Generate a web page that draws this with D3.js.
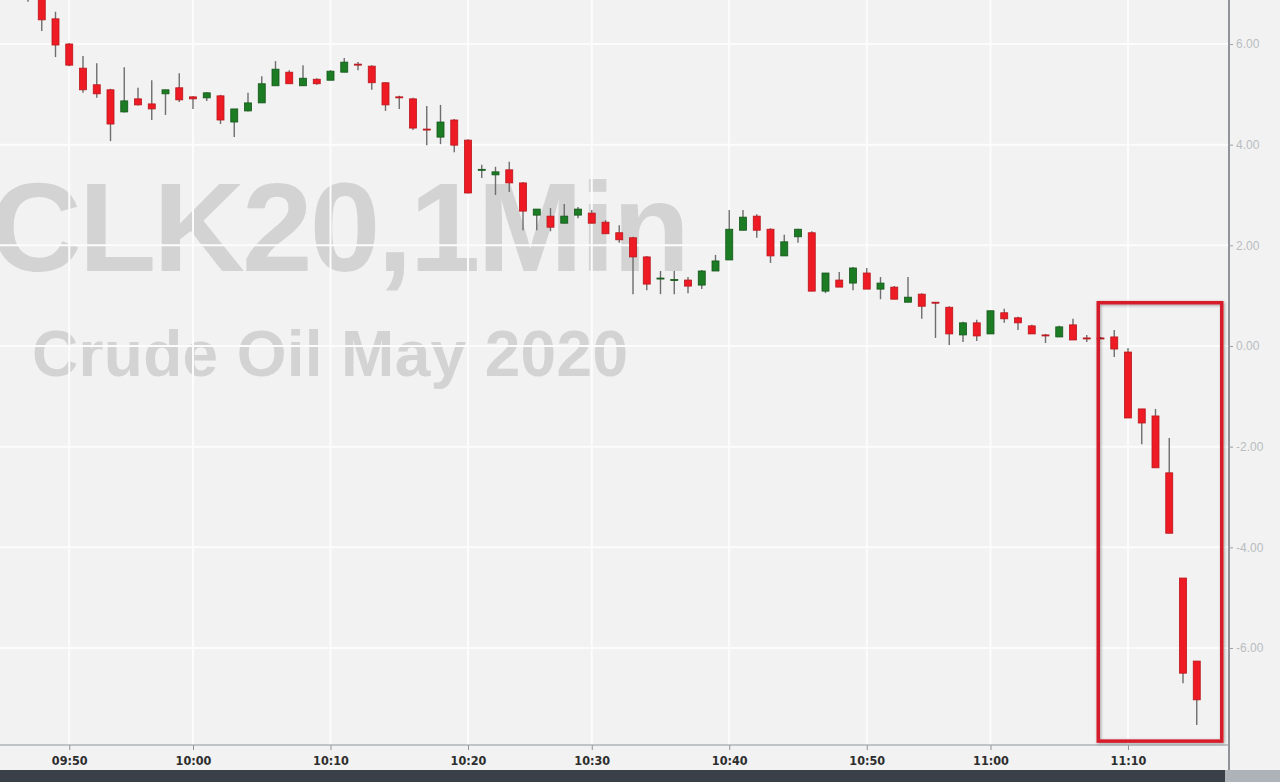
<!DOCTYPE html>
<html>
<head>
<meta charset="utf-8">
<script src="https://cdn.jsdelivr.net/npm/d3@7"></script>
<style>
  html, body { margin: 0; padding: 0; background: #f2f2f2; }
  svg { display: block; }
</style>
</head>
<body>
<svg id="chart" width="1280" height="782"></svg>
<script>
// ---------- DATA ----------
const times = [
  "09:47","09:48","09:49","09:50","09:51","09:52","09:53","09:54","09:56","09:57",
  "09:58","09:59","10:00","10:01","10:02","10:03","10:04","10:05","10:06","10:07",
  "10:08","10:09","10:10","10:11","10:12","10:13","10:14","10:15","10:16","10:17",
  "10:18","10:19","10:20","10:21","10:22","10:23","10:24","10:25","10:26","10:27",
  "10:28","10:30","10:31","10:32","10:33","10:34","10:35","10:36","10:37","10:38",
  "10:39","10:40","10:41","10:42","10:43","10:44","10:45","10:46","10:47","10:48",
  "10:49","10:50","10:51","10:52","10:53","10:54","10:55","10:56","10:57","10:58",
  "11:00","11:01","11:02","11:03","11:04","11:05","11:06","11:07","11:08","11:09",
  "11:10","11:11","11:12","11:13","11:14","11:15"
];
const opens = [
  7.15, 6.93, 6.50, 6.00, 5.52, 5.19, 5.09, 4.65, 4.91, 4.81,
  5.01, 5.13, 4.95, 4.93, 4.97, 4.45, 4.67, 4.83, 5.17, 5.44,
  5.17, 5.30, 5.28, 5.44, 5.60, 5.56, 5.23, 4.95, 4.91, 4.31,
  4.15, 4.49, 4.09, 3.49, 3.40, 3.50, 3.24, 2.60, 2.58, 2.44,
  2.60, 2.64, 2.46, 2.25, 2.15, 1.77, 1.33, 1.31, 1.31, 1.21,
  1.49, 1.71, 2.30, 2.58, 2.32, 1.79, 2.17, 2.25, 1.09, 1.31,
  1.25, 1.45, 1.13, 1.17, 0.87, 1.03, 0.87, 0.77, 0.22, 0.46,
  0.24, 0.66, 0.56, 0.40, 0.22, 0.18, 0.42, 0.16, 0.16, 0.18,
  -0.12, -1.25, -1.39, -2.52, -4.61, -6.26
];
const highs = [
  7.20, 6.99, 6.64, 6.02, 5.76, 5.62, 5.11, 5.54, 5.13, 5.28,
  5.09, 5.42, 4.96, 5.04, 4.99, 4.71, 5.03, 5.36, 5.66, 5.48,
  5.58, 5.32, 5.48, 5.72, 5.64, 5.58, 5.24, 4.97, 4.93, 4.77,
  4.79, 4.51, 4.11, 3.60, 3.56, 3.66, 3.26, 2.72, 2.74, 2.82,
  2.76, 2.70, 2.50, 2.40, 2.17, 1.79, 1.49, 1.49, 1.37, 1.51,
  1.81, 2.70, 2.70, 2.62, 2.34, 2.21, 2.33, 2.28, 1.45, 1.47,
  1.57, 1.55, 1.37, 1.19, 1.37, 1.05, 0.87, 0.79, 0.48, 0.52,
  0.70, 0.74, 0.58, 0.42, 0.24, 0.40, 0.54, 0.22, 0.18, 0.32,
  -0.04, -1.25, -1.25, -1.83, -4.61, -6.26
];
const lows = [
  6.84, 6.26, 5.74, 5.56, 5.03, 4.93, 4.07, 4.64, 4.78, 4.49,
  4.59, 4.85, 4.71, 4.87, 4.41, 4.15, 4.66, 4.83, 5.17, 5.21,
  5.17, 5.19, 5.28, 5.44, 5.48, 5.09, 4.67, 4.71, 4.29, 3.99,
  4.01, 3.85, 3.03, 3.34, 3.00, 3.06, 2.30, 2.30, 2.28, 2.44,
  2.54, 2.44, 2.23, 2.05, 1.03, 1.11, 1.03, 1.03, 1.05, 1.13,
  1.49, 1.71, 2.30, 2.15, 1.65, 1.79, 2.05, 1.09, 1.05, 1.17,
  1.11, 1.13, 0.93, 0.93, 0.87, 0.54, 0.16, 0.02, 0.08, 0.10,
  0.24, 0.46, 0.32, 0.24, 0.06, 0.18, 0.12, 0.08, 0.14, -0.22,
  -1.43, -1.95, -2.42, -3.72, -6.70, -7.53
];
const closes = [
  6.92, 6.48, 5.98, 5.58, 5.09, 5.01, 4.41, 4.87, 4.79, 4.71,
  5.09, 4.89, 4.91, 5.03, 4.49, 4.71, 4.83, 5.21, 5.50, 5.21,
  5.32, 5.21, 5.46, 5.64, 5.58, 5.23, 4.79, 4.93, 4.33, 4.29,
  4.45, 3.99, 3.04, 3.51, 3.46, 3.24, 2.68, 2.72, 2.36, 2.58,
  2.72, 2.44, 2.23, 2.11, 1.77, 1.23, 1.35, 1.32, 1.19, 1.49,
  1.69, 2.32, 2.56, 2.30, 1.79, 2.07, 2.32, 1.09, 1.45, 1.17,
  1.55, 1.13, 1.25, 0.93, 0.97, 0.79, 0.86, 0.24, 0.46, 0.20,
  0.70, 0.54, 0.46, 0.24, 0.21, 0.38, 0.12, 0.15, 0.15, -0.06,
  -1.43, -1.53, -2.42, -3.72, -6.50, -7.03
];
const xTickLabels = ["09:50","10:00","10:10","10:20","10:30","10:40","10:50","11:00","11:10"];
const yTickValues = [6, 4, 2, 0, -2, -4, -6];
const highlightFrom = "11:09";   // first candle inside the red box
const highlightTo = "11:15";     // last candle inside the red box
const titleLine1 = "CLK20,1Min";
const titleLine2 = "Crude Oil May 2020";

// ---------- LAYOUT ----------
const W = 1280, H = 782;
const plotRight = 1229, plotBottom = 745;

const svg = d3.select("#chart");

const x = d3.scalePoint().domain(times).range([28, 1196.75]);
const y = d3.scaleLinear().domain([0, 6]).range([346, 44]);

const candles = times.map((t, i) => ({ t, o: opens[i], h: highs[i], l: lows[i], c: closes[i] }));

// background
svg.append("rect").attr("width", W).attr("height", H).attr("fill", "#f2f2f2");

const defs = svg.append("defs");
defs.append("clipPath").attr("id", "plotClip")
  .append("rect").attr("x", 0).attr("y", 0).attr("width", plotRight).attr("height", plotBottom);
const sh = defs.append("filter").attr("id", "boxShadow")
  .attr("x", "-10%").attr("y", "-10%").attr("width", "120%").attr("height", "120%");
sh.append("feDropShadow").attr("dx", 1).attr("dy", 1).attr("stdDeviation", 1.5)
  .attr("flood-color", "#000").attr("flood-opacity", 0.35);

const plot = svg.append("g").attr("clip-path", "url(#plotClip)");

// watermark
plot.append("text")
  .attr("x", -10).attr("y", 271)
  .attr("textLength", 700).attr("lengthAdjust", "spacing")
  .style("font-family", "'Liberation Sans', Arial, sans-serif")
  .style("font-weight", "bold").style("font-size", "127px")
  .attr("fill", "#d3d3d3")
  .text(titleLine1);
plot.append("text")
  .attr("x", 32).attr("y", 376)
  .attr("textLength", 596).attr("lengthAdjust", "spacing")
  .style("font-family", "'Liberation Sans', Arial, sans-serif")
  .style("font-weight", "bold").style("font-size", "64px")
  .attr("fill", "#d3d3d3")
  .text(titleLine2);

// grid
plot.append("g").selectAll("line.hg").data(yTickValues).join("line")
  .attr("x1", 0).attr("x2", plotRight)
  .attr("y1", d => y(d)).attr("y2", d => y(d))
  .attr("stroke", "#fcfcfc").attr("stroke-width", 2);
plot.append("g").selectAll("line.vg").data(xTickLabels).join("line")
  .attr("x1", d => x(d)).attr("x2", d => x(d))
  .attr("y1", 0).attr("y2", plotBottom)
  .attr("stroke", "#fcfcfc").attr("stroke-width", 2);

// candles
const bodyW = 7;
const cg = plot.append("g");
const g = cg.selectAll("g.c").data(candles).join("g");
g.append("line")
  .attr("x1", d => x(d.t)).attr("x2", d => x(d.t))
  .attr("y1", d => y(d.h)).attr("y2", d => y(d.l))
  .attr("stroke", "#6e6e6e").attr("stroke-width", 1.4);
g.append("rect")
  .attr("x", d => x(d.t) - bodyW / 2)
  .attr("width", bodyW)
  .attr("y", d => y(Math.max(d.o, d.c)))
  .attr("height", d => Math.max(1, Math.abs(y(d.o) - y(d.c))))
  .attr("fill", d => d.c >= d.o ? "#1c7c23" : "#ee1b24")
  .attr("stroke", d => d.c >= d.o ? "#14561a" : "#b8161c")
  .attr("stroke-width", 0.8);

// highlight box
const hx0 = x(highlightFrom) - 16, hx1 = x(highlightTo) + 25;
svg.append("rect")
  .attr("x", hx0).attr("y", y(0.86))
  .attr("width", hx1 - hx0).attr("height", y(-7.85) - y(0.86))
  .attr("fill", "none").attr("stroke", "#d61e2c").attr("stroke-width", 3.5)
  .attr("filter", "url(#boxShadow)");

// y axis (right)
const yAxis = d3.axisRight(y).tickValues(yTickValues).tickSize(4).tickPadding(3)
  .tickFormat(d => d.toFixed(2));
const ya = svg.append("g").attr("transform", `translate(${plotRight},0)`).call(yAxis);
ya.select(".domain").attr("d", `M0,0V${plotBottom + 25}`).attr("stroke", "#6f757c").attr("stroke-width", 1.5);
ya.selectAll(".tick line").attr("stroke", "#9aa0a6");
ya.selectAll(".tick text")
  .attr("fill", "#b9bdc1")
  .style("font-family", "'Liberation Sans', Arial, sans-serif")
  .style("font-size", "12px");

// x axis (bottom)
const xAxis = d3.axisBottom(x).tickValues(xTickLabels).tickSize(5).tickPadding(6);
const xa = svg.append("g").attr("transform", `translate(0,${plotBottom})`).call(xAxis);
xa.select(".domain").attr("d", `M0,0H${plotRight}`).attr("stroke", "#8f959b");
xa.selectAll(".tick line").attr("stroke", "#8f959b");
xa.selectAll(".tick text")
  .attr("fill", "#2d2d2d")
  .style("font-family", "'Liberation Sans Narrow', 'DejaVu Sans Condensed', Arial, sans-serif")
  .style("font-weight", "bold")
  .style("font-size", "12.5px");

// bottom status bar
svg.append("rect").attr("x", 0).attr("y", 770).attr("width", 1225).attr("height", 12).attr("fill", "#3a4047");
svg.append("rect").attr("x", 1225).attr("y", 770).attr("width", W - 1225).attr("height", 12).attr("fill", "#aeb3b9");
</script>
</body>
</html>
